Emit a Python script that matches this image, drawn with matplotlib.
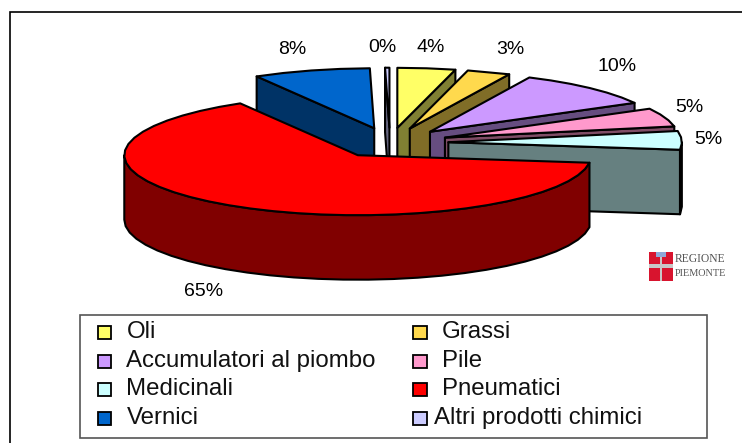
import numpy as np
import matplotlib
matplotlib.use("Agg")
import matplotlib.pyplot as plt
from matplotlib.patches import Polygon, Rectangle
from matplotlib.colors import to_rgb

categories = ["Oli", "Grassi", "Accumulatori al piombo", "Pile", "Medicinali",
              "Pneumatici", "Vernici", "Altri prodotti chimici"]
values = [4.0, 3.0, 10.0, 5.0, 5.0, 64.6, 8.1, 0.3]
colors = ["#FFFF66", "#FFD94D", "#CC99FF", "#FF99CC", "#CCFFFF",
          "#FF0000", "#0066CC", "#CCCCFF"]
label_texts = ["4%", "3%", "10%", "5%", "5%", "65%", "8%", "0%"]
label_pos = [(431, 47.5), (510, 49.5), (617, 66.5), (689, 107.5), (708, 139.5),
             (204, 291.5), (292, 49.5), (382, 47.5)]
legend_rows = [(0, 332.7), (2, 361), (4, 389), (6, 418)]

W, H = 742, 443
CX, CY = 390.0, 142.7
RX, RY = 233.5, 60.0
EXPLODE = 0.25
DEPTH = 64.5
LW = 1.5

plt.rcParams["font.family"] = ["Liberation Sans", "DejaVu Sans"]
fig = plt.figure(figsize=(W / 100, H / 100), dpi=100, facecolor="white")
ax = fig.add_axes([0, 0, 1, 1])
ax.set_xlim(0, W)
ax.set_ylim(H, 0)
ax.axis("off")

ax.plot([10, 10, W], [H, 12, 12], color="black", lw=1.2, solid_joinstyle="miter")


def pt(theta, ax0, ay0):
    t = np.radians(theta)
    return np.array([ax0 + RX * np.sin(t), ay0 - RY * np.cos(t)])


def shade(c):
    return tuple(v * 0.5 for v in to_rgb(c))


edges = np.concatenate([[0], np.cumsum(values)]) * 3.6
wedges = []
for i, (v, c) in enumerate(zip(values, colors)):
    a0, a1 = edges[i], edges[i + 1]
    mid = np.radians((a0 + a1) / 2)
    apex = np.array([CX + EXPLODE * RX * np.sin(mid), CY - EXPLODE * RY * np.cos(mid)])
    wedges.append((i, a0, a1, apex, c))


def draw_wedge(a0, a1, apex, c, z):
    n = max(int((a1 - a0) / 6), 1)
    th = np.linspace(a0, a1, n + 1)
    arc = np.array([pt(t, *apex) for t in th])
    down = np.array([0, DEPTH])
    wall = shade(c)
    kw = dict(edgecolor="black", linewidth=LW, joinstyle="round", zorder=z)
    # radial walls facing the viewer
    if a0 >= 180:
        ax.add_patch(Polygon([apex, arc[0], arc[0] + down, apex + down], facecolor=wall, **kw))
    if a1 <= 180:
        ax.add_patch(Polygon([apex, arc[-1], arc[-1] + down, apex + down], facecolor=wall, **kw))
    # outer rim, front half only
    lo, hi = max(a0, 90), min(a1, 270)
    if hi > lo:
        m = max(int((hi - lo) / 6), 1)
        r = np.array([pt(t, *apex) for t in np.linspace(lo, hi, m + 1)])
        ax.add_patch(Polygon(np.vstack([r, (r + down)[::-1]]), facecolor=wall, **kw))
    ax.add_patch(Polygon(np.vstack([[apex], arc]), facecolor=c, **kw))


order = [6, 7, 0, 1, 2, 3, 4, 5]
for z, k in enumerate(order):
    i, a0, a1, apex, c = wedges[k]
    draw_wedge(a0, a1, apex, c, 2 + z)

for txt, (x, y) in zip(label_texts, label_pos):
    ax.text(x, y, txt, fontsize=14, ha="center", va="center", color="black", zorder=20)

# legend
ax.add_patch(Rectangle((80, 315), 627, 122.5, facecolor="white", edgecolor="#555555",
                       linewidth=1.2, zorder=15))
text_x = [126.5, 441.5]
swatch_x = [97.5, 413]
for first, yc in legend_rows:
    for col in (0, 1):
        idx = first + col
        ax.add_patch(Rectangle((swatch_x[col], yc - 6.5), 13.5, 13, facecolor=colors[idx],
                               edgecolor="black", linewidth=1.3, zorder=16))
        tx = text_x[col]
        if idx == 7:
            tx = 434.5
        ax.text(tx, yc + 5.8, categories[idx], fontsize=17.3, ha="left", va="baseline",
                color="#111111", zorder=16)

# logo
ax.add_patch(Rectangle((649, 252), 24, 29, facecolor="#C8C8C8", edgecolor="none", zorder=5))
for (x0, y0, w, h) in [(649, 252, 10.5, 12), (662, 252, 11, 12),
                       (649, 268, 10.5, 13), (662, 268, 11, 13)]:
    ax.add_patch(Rectangle((x0, y0), w, h, facecolor="#D8142E", edgecolor="none", zorder=6))
ax.add_patch(Rectangle((656, 252), 10, 5, facecolor="#8FA8D8", edgecolor="none", zorder=7))
ax.text(675, 259.5, "REGIONE", fontsize=8.4, family="Liberation Serif", color="#555555",
        ha="left", va="center", zorder=6)
ax.text(675, 274, "PIEMONTE", fontsize=7.4, family="Liberation Serif", color="#555555",
        ha="left", va="center", zorder=6)

fig.savefig("out.png", dpi=100, facecolor="white")
